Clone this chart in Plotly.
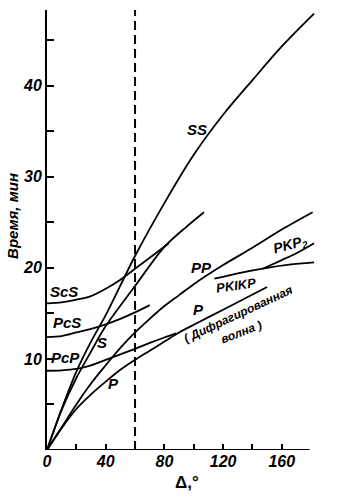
import plotly.graph_objects as go

# --- data (distance in degrees, time in minutes) ---
ss_deg = [0, 10, 20, 30, 40, 60, 80, 100, 120, 140, 160, 182]
ss_min = [0, 4.5, 8.6, 11.9, 14.8, 21.3, 27.1, 32.4, 36.8, 40.6, 44.3, 47.9]

s_deg = [0, 10, 20, 30, 40, 60, 80, 95, 107]
s_min = [0, 4.4, 7.9, 10.8, 13.6, 18.0, 22.3, 24.5, 26.1]

scs_deg = [0, 10, 20, 30, 40, 50, 60, 70, 83]
scs_min = [16.1, 16.2, 16.5, 16.9, 17.7, 18.7, 19.9, 21.1, 22.7]

pcs_deg = [0, 10, 20, 30, 40, 50, 60, 70]
pcs_min = [12.4, 12.5, 12.9, 13.3, 13.8, 14.4, 15.1, 15.9]

pcp_deg = [0, 10, 20, 30, 40, 50, 60, 70, 80, 88]
pcp_min = [8.7, 8.75, 8.9, 9.3, 9.9, 10.5, 11.1, 11.75, 12.35, 12.8]

p_deg = [0, 10, 20, 30, 40, 50, 60, 70, 80, 90, 100, 120, 150]
p_min = [0, 2.4, 4.5, 6.1, 7.5, 8.8, 9.9, 10.9, 11.9, 12.9, 13.75, 15.4, 17.9]

pp_deg = [0, 10, 20, 30, 40, 50, 60, 70, 80, 90, 100, 120, 140, 160, 181]
pp_min = [0, 2.5, 5.0, 7.3, 9.3, 11.2, 12.9, 14.4, 15.8, 17.0, 18.2, 20.3, 22.2, 24.2, 26.1]

pkikp_deg = [114, 130, 150, 165, 182]
pkikp_min = [18.8, 19.4, 20.0, 20.35, 20.6]

pkp2_deg = [147, 160, 170, 182]
pkp2_min = [19.9, 20.85, 21.6, 22.7]

x_tick_vals = [0, 40, 80, 120, 160]
x_tick_text = ["0", "40", "80", "120", "160"]
x_minor_vals = [20, 60, 100, 140]
y_tick_vals = [10, 20, 30, 40]
y_tick_text = ["10", "20", "30", "40"]
y_minor_vals = [5, 15, 25, 35, 45]

shadow_edge = 60

FONT = "Liberation Sans"

fig = go.Figure()
series = [
    (ss_deg, ss_min), (s_deg, s_min), (scs_deg, scs_min), (pcs_deg, pcs_min),
    (pcp_deg, pcp_min), (p_deg, p_min), (pp_deg, pp_min),
    (pkikp_deg, pkikp_min), (pkp2_deg, pkp2_min),
]
for xs, ys in series:
    fig.add_trace(go.Scatter(x=xs, y=ys, mode="lines",
                             line=dict(color="black", width=1.8, shape="spline", smoothing=0.9),
                             hoverinfo="skip", showlegend=False))

labels = [
    ("SS", 101.9, 35.2, 0, 15),
    ("ScS", 11.9, 17.4, 0, 15),
    ("PcS", 13.3, 14.0, 0, 15),
    ("PcP", 12.6, 10.2, 0, 15),
    ("S", 37.8, 11.8, 0, 15),
    ("P", 45.3, 7.3, 0, 15),
    ("PP", 105.3, 20.05, 0, 15),
    ("P", 103.3, 15.4, 0, 15),
    ("PKIKP", 128.5, 18.1, -8, 13),
    ("PKP<sub>2</sub>", 166.0, 22.5, -15, 14),
    ("( Дифрагированная", 130.5, 14.9, -25, 12),
    ("волна )", 132.6, 12.9, -21, 12),
]
for txt, lx, ly, ang, sz in labels:
    fig.add_annotation(x=lx, y=ly, text=txt, showarrow=False, textangle=ang,
                       font=dict(family=FONT, size=sz, color="black", style="italic",
                                 weight="bold"))

# dashed vertical line
fig.add_shape(type="line", x0=shadow_edge, x1=shadow_edge, y0=0, y1=48.5,
              xref="x", yref="y", line=dict(color="black", width=2, dash="9px,5px"))
# x axis line (ends before the curves do)
fig.add_shape(type="line", x0=0, x1=179, y0=0, y1=0, xref="x", yref="y",
              line=dict(color="black", width=2))

fig.add_annotation(x=0.5, y=0, xref="paper", yref="paper", yanchor="middle",
                   yshift=-32, xshift=5,
                   text="Δ,°", showarrow=False,
                   font=dict(family=FONT, size=17, color="black", weight="bold"))
fig.add_annotation(x=0, y=0.532, xref="paper", yref="paper", xanchor="center",
                   yanchor="middle", xshift=-34,
                   text="Время, мин", showarrow=False, textangle=-90,
                   font=dict(family=FONT, size=15, color="black", style="italic",
                             weight="bold"))

tick_font = dict(family=FONT, size=16, color="black", style="italic", weight="bold")

fig.update_layout(
    width=362, height=500,
    margin=dict(l=47, r=45, t=10, b=50),
    plot_bgcolor="white", paper_bgcolor="white",
    showlegend=False,
    xaxis=dict(range=[0, 184], showgrid=False, zeroline=False, showline=False,
               automargin=False,
               tickmode="array", tickvals=x_tick_vals, ticktext=x_tick_text,
               ticks="inside", ticklen=6, tickwidth=1.5, tickcolor="black",
               tickfont=tick_font,
               minor=dict(tickmode="array", tickvals=x_minor_vals, ticks="inside",
                          ticklen=6, tickwidth=1.5, tickcolor="black")),
    yaxis=dict(range=[0, 48.3], showgrid=False, zeroline=False, showline=True,
               automargin=False,
               linecolor="black", linewidth=2,
               tickmode="array", tickvals=y_tick_vals, ticktext=y_tick_text,
               ticks="inside", ticklen=7, tickwidth=1.5, tickcolor="black",
               tickfont=tick_font,
               minor=dict(tickmode="array", tickvals=y_minor_vals, ticks="inside",
                          ticklen=7, tickwidth=1.5, tickcolor="black")),
)

fig.write_html("out.html", config={"displayModeBar": False},
               post_script="document.body.style.margin='0';")
